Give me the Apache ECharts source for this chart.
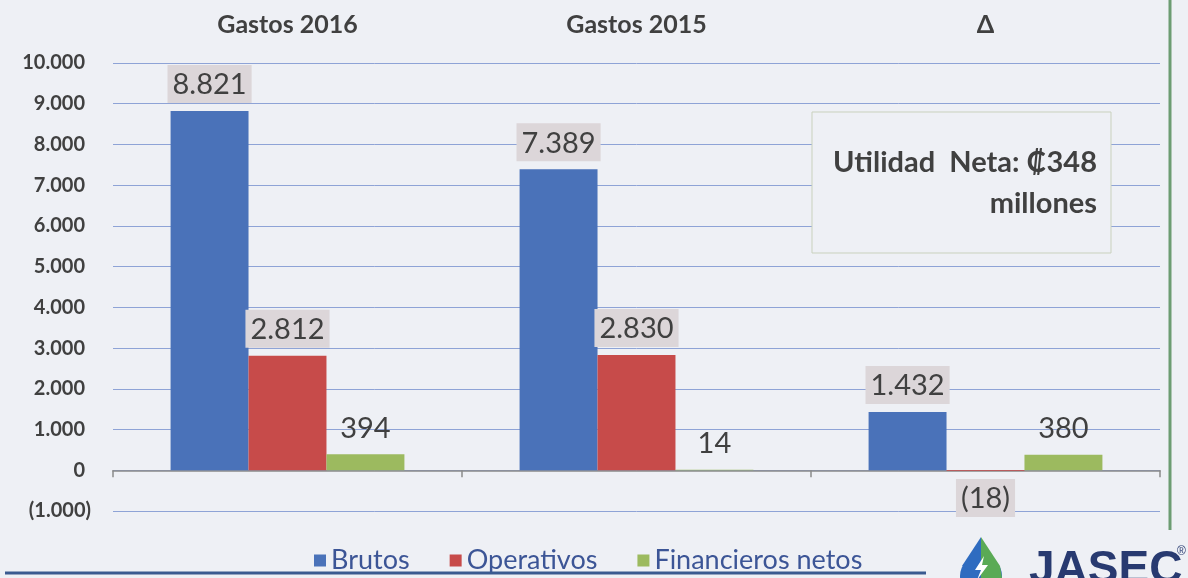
<!DOCTYPE html>
<html>
<head>
<meta charset="utf-8">
<script src="https://cdn.jsdelivr.net/npm/echarts@6/dist/echarts.min.js"></script>
<style>
html,body{margin:0;padding:0;background:#eef0f5;}
#c{width:1188px;height:578px;}
</style>
</head>
<body>
<div id="c"></div>
<script>
var categories = ['Gastos 2016', 'Gastos 2015', 'Δ'];
var seriesNames = ['Brutos', 'Operativos', 'Financieros netos'];
var brutos = [8821, 7389, 1432];
var operativos = [2812, 2830, -18];
var financieros = [394, 14, 380];
var yMin = -1000, yMax = 10000, yStep = 1000;
var noteLines = ['Utilidad  Neta: ₡348', 'millones'];

function fmt(v) {
  var s = Math.abs(v).toString().replace(/\B(?=(\d{3})+(?!\d))/g, '.');
  return v < 0 ? '(' + s + ')' : s;
}

var FONT = 'Lato';
var TXT = '#404040';

function mkData(arr) {
  return arr.map(function (v) {
    return v < 0 ? { value: v, label: { position: 'bottom' } } : v;
  });
}

function labelCfg(withBg) {
  var l = {
    show: true, position: 'top', distance: 8,
    fontFamily: FONT, fontSize: 29, lineHeight: 32, color: TXT,
    padding: [4, 5, 2, 5],
    formatter: function (p) { return fmt(p.value); }
  };
  if (withBg) { l.backgroundColor = '#dcd6d9'; }
  return l;
}

var yFont = { fontFamily: FONT, fontWeight: 'bold', fontSize: 20, color: TXT };

var chart = echarts.init(document.getElementById('c'));
chart.setOption({
  backgroundColor: '#eef0f5',
  animation: false,
  grid: { left: 113, right: 28, top: 63, bottom: 67 },
  legend: {
    data: seriesNames, left: 309, top: 542, icon: 'rect',
    itemWidth: 12, itemHeight: 12, itemGap: 40,
    textStyle: { fontFamily: FONT, fontSize: 27, color: '#3c5596' }
  },
  xAxis: [
    {
      type: 'category', data: categories, position: 'bottom',
      axisLine: { onZero: true, lineStyle: { color: '#8a8a8a', width: 1.5 } },
      axisTick: { show: true, length: 7, lineStyle: { color: '#8a8a8a', width: 1.5 } },
      axisLabel: { show: false }
    },
    {
      type: 'category', data: categories, position: 'top',
      axisLine: { show: false }, axisTick: { show: false },
      axisLabel: { show: true, margin: 26, fontFamily: FONT, fontWeight: 'bold', fontSize: 25, color: TXT }
    }
  ],
  yAxis: {
    type: 'value', min: yMin, max: yMax, interval: yStep,
    axisLine: { show: false }, axisTick: { show: false },
    axisLabel: {
      margin: 22,
      formatter: function (v) { return v < 0 ? '{n|' + fmt(v) + '}' : '{p|' + fmt(v) + '}'; },
      rich: {
        p: Object.assign({ padding: [0, 6, 0, 0] }, yFont),
        n: Object.assign({}, yFont)
      }
    },
    splitLine: { lineStyle: { color: '#8ea3d6', width: 1 } }
  },
  series: [
    { name: seriesNames[0], type: 'bar', xAxisIndex: 0, data: mkData(brutos), barGap: '0%', barCategoryGap: '33%',
      itemStyle: { color: '#4a72b9' }, label: labelCfg(true) },
    { name: seriesNames[1], type: 'bar', xAxisIndex: 0, data: mkData(operativos), barGap: '0%', barCategoryGap: '33%',
      itemStyle: { color: '#c74b4a' }, label: labelCfg(true) },
    { name: seriesNames[2], type: 'bar', xAxisIndex: 0, data: mkData(financieros), barGap: '0%', barCategoryGap: '33%',
      itemStyle: { color: '#9cba5f' }, label: labelCfg(false) }
  ],
  graphic: [
    { type: 'rect', shape: { x: 812, y: 112, width: 299, height: 141 },
      style: { fill: '#eef0f5', stroke: '#c9d1bd', lineWidth: 1 }, z: 10 },
    { type: 'text', style: { x: 1097, y: 163, text: noteLines[0], textAlign: 'right', textVerticalAlign: 'middle',
      font: 'bold 29px Lato', fill: TXT }, z: 11 },
    { type: 'text', style: { x: 1097, y: 204, text: noteLines[1], textAlign: 'right', textVerticalAlign: 'middle',
      font: 'bold 29px Lato', fill: TXT }, z: 11 },
    { type: 'line', shape: { x1: 1170, y1: 0, x2: 1170, y2: 530 }, style: { stroke: '#6c9c72', lineWidth: 3 } },
    { type: 'line', shape: { x1: 5, y1: 573, x2: 926, y2: 573 }, style: { stroke: '#3a5a90', lineWidth: 3 }, z: 12 },
    { type: 'circle', shape: { cx: 981, cy: 576, r: 21 }, style: { fill: '#2f6cc0' }, z: 12 },
    { type: 'polygon', shape: { points: [[981, 537], [962, 566], [981, 576]] }, style: { fill: '#2f6cc0' }, z: 12 },
    { type: 'polygon', shape: { points: [[981, 537], [1000, 566], [1002, 578], [981, 578]] }, style: { fill: '#5aaa55' }, z: 13 },
    { type: 'polygon', shape: { points: [[984, 556], [975, 570], [981, 570], [977, 580], [988, 565], [982, 565]] }, style: { fill: '#ffffff' }, z: 14 },
    { type: 'text', style: { x: 1029, y: 593, text: 'JASEC', textAlign: 'left', textVerticalAlign: 'bottom',
      font: 'bold 46px "Liberation Sans"', fill: '#283a70' }, z: 12 },
    { type: 'text', style: { x: 1177, y: 546, text: '®', font: '12px "Liberation Sans"', fill: '#283a70' }, z: 12 }
  ]
});
</script>
</body>
</html>
